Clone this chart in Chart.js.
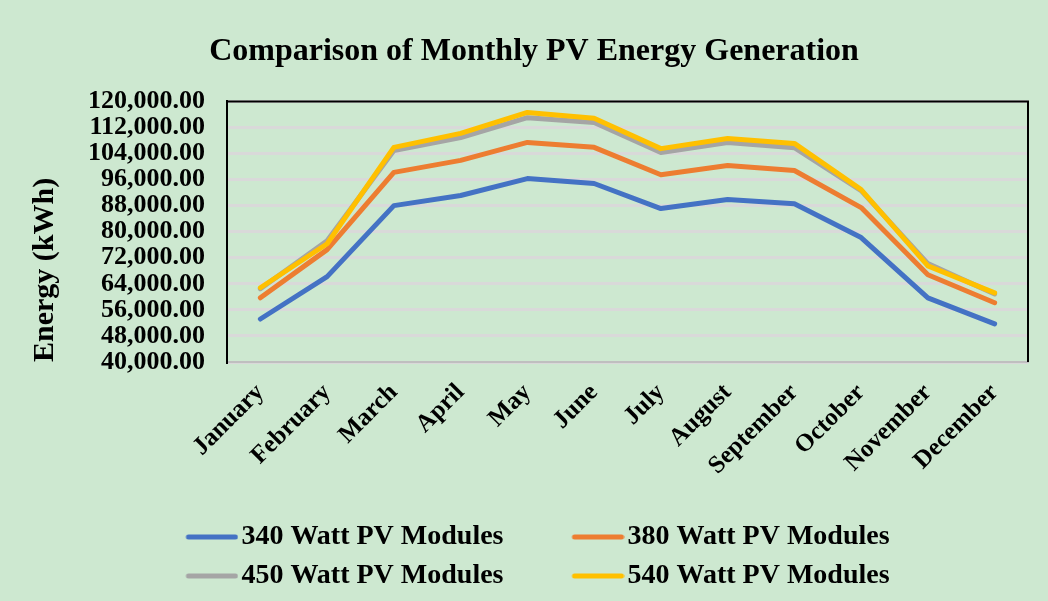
<!DOCTYPE html>
<html>
<head>
<meta charset="utf-8">
<script src="https://cdn.jsdelivr.net/npm/chart.js@4"></script>
<style>
  html, body { margin: 0; padding: 0; background: #cde8d0; }
  #wrap { width: 1048px; height: 601px; }
</style>
</head>
<body>
<div id="wrap"><canvas id="pvChart" width="1048" height="601"></canvas></div>
<script>
  const months = ['January', 'February', 'March', 'April', 'May', 'June', 'July',
                  'August', 'September', 'October', 'November', 'December'];
  const pv340 = [53200, 66200, 88000, 91100, 96300, 94800, 87100, 89900, 88600, 78200, 59700, 51700];
  const pv380 = [59700, 74500, 98200, 101900, 107400, 105900, 97500, 100300, 98800, 87400, 66800, 58200];
  const pv450 = [62500, 77200, 104900, 108900, 115000, 113500, 104300, 107400, 105800, 92600, 70200, 60900];
  const pv540 = [62800, 76300, 105900, 110200, 116600, 114800, 105500, 108600, 107100, 92900, 69500, 61200];
  const yTicks = [40000, 48000, 56000, 64000, 72000, 80000, 88000, 96000, 104000, 112000, 120000];

  const serif = '"Liberation Serif", "Times New Roman", serif';

  // legend marker: short line sitting at the right end of a wider transparent box
  const KEY_BOX = 99;
  function legendKey(color) {
    const cv = document.createElement('canvas');
    cv.width = KEY_BOX + 22;
    cv.height = 8;
    const c = cv.getContext('2d');
    c.strokeStyle = color;
    c.lineWidth = 5;
    c.lineCap = 'round';
    c.beginPath();
    c.moveTo(cv.width - 53 + 3, 4);
    c.lineTo(cv.width - 3, 4);
    c.stroke();
    return cv;
  }

  function series(label, data, color, order) {
    return {
      label: label,
      data: data,
      borderColor: color,
      backgroundColor: color,
      borderWidth: 5,
      borderCapStyle: 'round',
      borderJoinStyle: 'round',
      pointRadius: 0,
      pointStyle: legendKey(color),
      tension: 0,
      order: order
    };
  }

  // paint background and the black frame on top/right of plot
  const framePlugin = {
    id: 'frame',
    afterLayout(chart) {
      // nudge the legend block a little to the left
      chart.legend.left -= 25;
      chart.legend.right -= 25;
    },
    beforeDraw(chart) {
      const c = chart.ctx;
      c.save();
      c.fillStyle = '#cde8d0';
      c.fillRect(0, 0, chart.width, chart.height);
      c.restore();
    },
    afterDatasetsDraw(chart) {
      const a = chart.chartArea;
      const c = chart.ctx;
      c.save();
      c.strokeStyle = '#000';
      c.lineWidth = 2;
      c.beginPath();
      c.moveTo(a.left, a.top);
      c.lineTo(a.right, a.top);
      c.lineTo(a.right, a.bottom);
      c.stroke();
      c.restore();
    }
  };

  const ctx = document.getElementById('pvChart').getContext('2d');
  const myChart = new Chart(ctx, {
    type: 'line',
    data: {
      labels: months,
      datasets: [
        series('340 Watt PV Modules', pv340, '#4472c4', 3),
        series('380 Watt PV Modules', pv380, '#ed7d31', 2),
        series('450 Watt PV Modules', pv450, '#a5a5a5', 1),
        series('540 Watt PV Modules', pv540, '#ffc000', 0)
      ]
    },
    options: {
      responsive: false,
      animation: false,
      layout: { padding: { left: 40, right: 20, top: 20, bottom: 1 } },
      plugins: {
        title: {
          display: true,
          text: 'Comparison of Monthly PV Energy Generation',
          color: '#000',
          font: { family: serif, size: 32, weight: 'bold' },
          padding: { top: 13, bottom: 30 }
        },
        legend: {
          position: 'bottom',
          labels: {
            color: '#000',
            font: { family: serif, size: 28, weight: 'bold' },
            usePointStyle: true,
            pointStyleWidth: KEY_BOX,
            boxHeight: 8,
            padding: 11,
            sort: (a, b) => a.datasetIndex - b.datasetIndex
          }
        },
        tooltip: { enabled: false }
      },
      scales: {
        x: {
          grid: { display: false },
          border: { display: true, color: '#bfbfbf', width: 2 },
          offset: true,
          ticks: {
            color: '#000',
            font: { family: serif, size: 25, weight: 'bold' },
            maxRotation: 45,
            minRotation: 45,
            padding: 8,
            autoSkip: false
          },
          afterFit(scale) { scale.height = 150; }
        },
        y: {
          min: 40000,
          max: 120000,
          afterBuildTicks(scale) { scale.ticks = yTicks.map(v => ({ value: v })); },
          grid: { color: '#d9d9d9', lineWidth: 3, drawTicks: false },
          border: { display: true, color: '#000', width: 2 },
          ticks: {
            color: '#000',
            font: { family: serif, size: 26, weight: 'bold' },
            padding: 22,
            autoSkip: false,
            callback: v => v.toLocaleString('en-US', { minimumFractionDigits: 2, maximumFractionDigits: 2 })
          },
          title: {
            display: true,
            text: 'Energy (kWh)',
            color: '#000',
            align: 'start',
            font: { family: serif, size: 30, weight: 'bold', lineHeight: 0.35 },
            padding: { top: 0, bottom: 0 }
          },
          afterFit(scale) { scale.width = 187; }
        }
      }
    },
    plugins: [framePlugin]
  });
</script>
</body>
</html>
